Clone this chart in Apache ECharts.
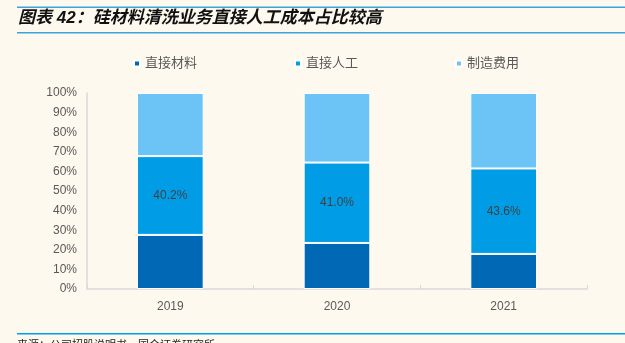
<!DOCTYPE html>
<html>
<head>
<meta charset="utf-8">
<style>
  html, body { margin: 0; padding: 0; background: #fdf9ef; }
  #chart { width: 625px; height: 343px; }
</style>
<script src="https://cdn.jsdelivr.net/npm/echarts@6/dist/echarts.min.js"></script>
</head>
<body>
<div id="chart"></div>
<script>
// Cost structure of the silicon-material cleaning business (share, %)
const years = ['2019', '2020', '2021'];
const seriesNames = ['直接材料', '直接人工', '制造费用'];
const materialShare = [27.6, 23.5, 17.9];
const laborShare = [40.2, 41.0, 43.6];
const overheadShare = [32.2, 35.5, 38.5];
const yTicks = [0, 10, 20, 30, 40, 50, 60, 70, 80, 90, 100];

const colors = ['#0068b4', '#009de6', '#6bc4f5'];
const font = '"Liberation Sans", "Noto Sans CJK SC", sans-serif';

const chart = echarts.init(document.getElementById('chart'), null, { renderer: 'canvas' });

function barSeries(name, data, color, showLabel) {
  return {
    name: name,
    type: 'bar',
    stack: 'total',
    barWidth: '40%',
    data: data,
    itemStyle: { color: color, borderColor: '#ffffff', borderWidth: 1 },
    label: {
      show: showLabel,
      position: 'inside',
      color: '#404040',
      fontFamily: font,
      fontSize: 12,
      formatter: p => p.value.toFixed(1) + '%'
    },
    emphasis: { disabled: true }
  };
}

chart.setOption({
  backgroundColor: '#fdf9ef',
  animation: false,
  color: colors,
  graphic: [
    { type: 'rect', shape: { x: 17, y: 6.5, width: 608, height: 1.5 }, style: { fill: '#3aa2dc' } },
    { type: 'rect', shape: { x: 17, y: 32, width: 608, height: 1.5 }, style: { fill: '#3aa2dc' } },
    {
      type: 'text', left: 18, top: 10,
      style: {
        text: '图表 42：硅材料清洗业务直接人工成本占比较高',
        fill: '#111111',
        font: 'italic bold 17px "Liberation Sans", "Noto Sans CJK SC", sans-serif'
      }
    },
    { type: 'rect', shape: { x: 17, y: 333, width: 608, height: 1.5 }, style: { fill: '#00a0e9' } },
    {
      type: 'text', left: 17, top: 339,
      style: {
        text: '来源：公司招股说明书，国金证券研究所',
        fill: '#222222',
        font: '11px "Noto Sans CJK SC", sans-serif'
      }
    }
  ],
  legend: {
    top: 52,
    left: 128,
    itemGap: 97,
    itemWidth: 6,
    itemHeight: 6,
    icon: 'rect',
    textStyle: { color: '#595959', fontSize: 13, fontFamily: font },
    data: seriesNames
  },
  grid: { left: 87, right: 38, top: 93, bottom: 54 },
  xAxis: {
    type: 'category',
    data: years,
    axisLine: { lineStyle: { color: '#d9d9d9', width: 1.5 } },
    axisTick: { show: true, inside: true, length: 4, lineStyle: { color: '#d9d9d9' } },
    axisLabel: { color: '#595959', fontSize: 12, fontFamily: font, margin: 12 }
  },
  yAxis: {
    type: 'value',
    min: yTicks[0],
    max: yTicks[yTicks.length - 1],
    interval: 10,
    axisLine: { show: true, lineStyle: { color: '#d9d9d9', width: 1.5 } },
    axisTick: { show: false },
    splitLine: { show: false },
    axisLabel: { color: '#595959', fontSize: 12, fontFamily: font, margin: 10, formatter: v => v + '%' }
  },
  series: [
    barSeries(seriesNames[0], materialShare, colors[0], false),
    barSeries(seriesNames[1], laborShare, colors[1], true),
    barSeries(seriesNames[2], overheadShare, colors[2], false)
  ]
});
</script>
</body>
</html>
